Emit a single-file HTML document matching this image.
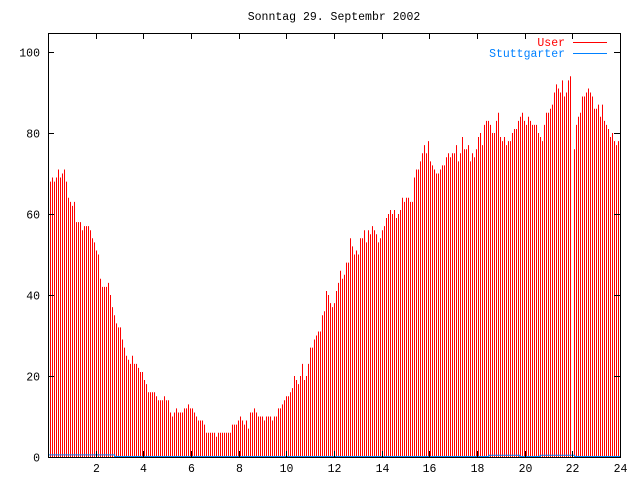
<!DOCTYPE html>
<html><head><meta charset="utf-8"><style>
body{margin:0;background:#fff}
svg{display:block}
text{font-family:"Liberation Mono",monospace;font-size:11.5px}
</style></head><body>
<svg id="chart" width="640" height="480" xmlns="http://www.w3.org/2000/svg">
<rect width="640" height="480" fill="#fff"/>
<text x="334" y="20" text-anchor="middle" fill="#000">Sonntag 29. Septembr 2002</text>
<g id="bars"></g>
<g id="stutt"></g>
<g id="axes"></g>
<g>
<text x="565" y="46" text-anchor="end" fill="#ff0000">User</text>
<line x1="573" y1="42.5" x2="607" y2="42.5" stroke="#ff0000" stroke-width="1"/>
<text x="565" y="57" text-anchor="end" fill="#0080ff">Stuttgarter</text>
<line x1="573" y1="53.5" x2="607" y2="53.5" stroke="#0080ff" stroke-width="1"/>
</g>
</svg>
<script>
const userValues = [68,68,69,68,69,71,69,70,71,68,64,63,62,63,58,58,58,56,57,57,57,56,54,53,51,50,44,42,42,42,43,40,37,35,33,32,32,29,27,25,24,23,25,23,23,22,21,21,19,18,16,16,16,16,15,14,14,14,15,14,14,11,10,11,12,11,11,11,12,12,13,12,12,11,10,9,9,9,8,6,6,6,6,6,5,6,6,6,6,6,6,6,8,8,8,9,10,9,8,
9,7,11,11,12,11,10,10,10,9,10,10,10,9,10,10,12,12,13,14,15,15,16,17,20,19,18,20,23,19,20,23,27,27,29,30,31,31,35,36,41,40,38,37,38,41,43,46,44,45,48,48,54,52,50,51,50,54,54,56,53,56,55,57,56,55,53,54,56,57,59,60,61,60,61,59,60,61,64,63,64,64,63,63,69,71,71,73,75,77,75,78,73,72,71,70,70,71,
72,72,74,75,74,75,75,77,73,75,79,76,76,77,73,75,74,76,79,80,77,82,83,83,82,80,80,83,85,79,78,79,77,78,78,80,81,81,83,84,85,83,82,84,83,82,82,82,80,79,78,82,85,85,86,87,90,92,91,90,93,89,90,93,94,0,76,82,84,85,89,89,90,91,90,89,86,86,87,84,87,83,82,81,79,80,78,77,78,78];
const stuttHours = [0,2.8,2.8,18.5,18.5,19.8,19.8,20.65,20.65,22.1,22.1,24];
const stuttValues = [0.4,0.4,0,0,0.3,0.3,0,0,0.3,0.3,0,0];
const yTicks = [0,20,40,60,80,100];
const xTicks = [2,4,6,8,10,12,14,16,18,20,22,24];
const pxPerSample = 2;

const L=48,R=620,T=33,B=457;
const xs = h => L + h*(R-L)/24;
const xi = i => L + i*pxPerSample;
const ys = v => B - v*4.05;
const NS="http://www.w3.org/2000/svg";
const bars=document.getElementById('bars');
userValues.forEach((v,i)=>{
  const x=xi(i)+0.5;
  if(x>R) return;
  const l=document.createElementNS(NS,'line');
  l.setAttribute('x1',x);l.setAttribute('x2',x);
  l.setAttribute('y1',B);l.setAttribute('y2',ys(v));
  l.setAttribute('stroke','#ff0000');l.setAttribute('stroke-width','1');
  
  
  bars.appendChild(l);
});
const st=document.getElementById('stutt');
const pl=document.createElementNS(NS,'polyline');
pl.setAttribute('points',stuttHours.map((h,i)=>xs(h)+','+(ys(stuttValues[i])-0.5)).join(' '));
pl.setAttribute('fill','none');pl.setAttribute('stroke','#0080ff');pl.setAttribute('stroke-width','1');


st.appendChild(pl);

const ax=document.getElementById('axes');
const fr=document.createElementNS(NS,'rect');
fr.setAttribute('x',L+0.5);fr.setAttribute('y',T+0.5);fr.setAttribute('width',R-L);fr.setAttribute('height',B-T);
fr.setAttribute('fill','none');fr.setAttribute('stroke','#000');


ax.appendChild(fr);
function ln(x1,y1,x2,y2,name){
  const l=document.createElementNS(NS,'line');
  l.setAttribute('x1',x1);l.setAttribute('y1',y1);l.setAttribute('x2',x2);l.setAttribute('y2',y2);
  l.setAttribute('stroke','#000');
  
  
  ax.appendChild(l);
}
function tx(x,y,s,anchor,name){
  const t=document.createElementNS(NS,'text');
  t.setAttribute('x',x);t.setAttribute('y',y);t.setAttribute('text-anchor',anchor);
  t.textContent=s;
  
  
  ax.appendChild(t);
}
yTicks.forEach(v=>{
  const y=Math.round(ys(v))+0.5;
  ln(L,y,L+6,y,'y-tick');
  ln(R-6,y,R,y,'y-tick-right');
  tx(40,y+4,String(v),'end','y-tick-label');
});
xTicks.forEach(h=>{
  const x=Math.round(xs(h))+0.5;
  ln(x,B,x,B-6,'x-tick');
  ln(x,T,x,T+6,'x-tick-top');
  tx(x,472,String(h),'middle','x-tick-label');
});
</script>
</body></html>
